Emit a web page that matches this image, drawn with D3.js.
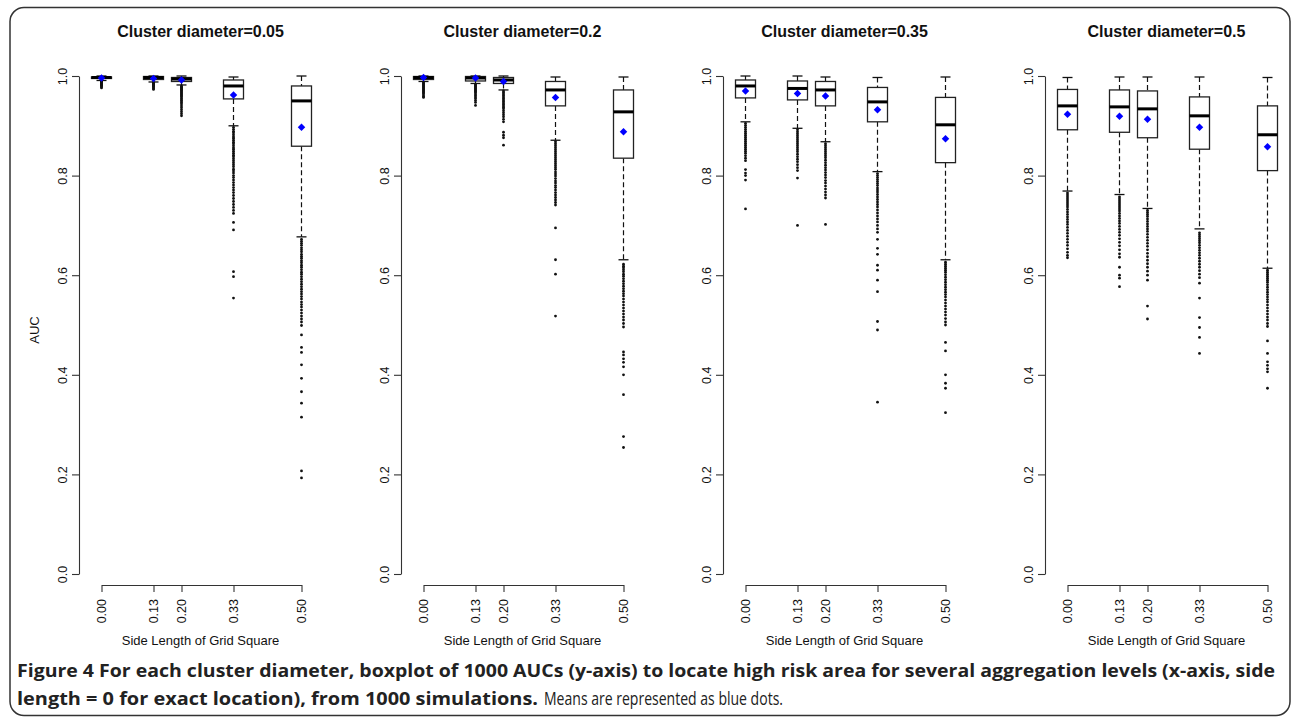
<!DOCTYPE html>
<html lang="en">
<head>
<meta charset="UTF-8">
<title>Figure 4 - AUC boxplots</title>
<script src="https://d3js.org/d3.v7.min.js"></script>
<style>
    body { margin: 0; background: #fff; }
    .title { font-family: "Liberation Sans", Arial, sans-serif; font-size: 16px; font-weight: bold; text-anchor: middle; fill: #111; }
    .axis text { font-family: "Liberation Sans", Arial, sans-serif; font-size: 12.5px; fill: #111; }
    .axis path, .axis line { stroke: #333; stroke-width: 1.1; }
    .lab { font-family: "Liberation Sans", Arial, sans-serif; font-size: 13px; fill: #111; text-anchor: middle; }
    .cap { font-family: "Liberation Sans Narrow", "Open Sans", sans-serif; font-size: 18px; fill: #222; }
</style>
</head>
<body>
<script>
// x positions of the boxes (side length of grid square)
const sideLengths = [0, 0.13, 0.2, 0.33, 0.5];
const sideLabels = ["0.00", "0.13", "0.20", "0.33", "0.50"];
const diameters = ["0.05", "0.2", "0.35", "0.5"];
const yTicks = [0, 0.2, 0.4, 0.6, 0.8, 1.0];

// one row per cluster diameter, one column per side length
const whiskerHigh = [
    [1.000, 1.000, 1.000, 0.998, 1.000],
    [1.000, 1.000, 1.000, 0.998, 0.998],
    [1.000, 1.000, 0.998, 0.997, 0.998],
    [0.997, 0.998, 0.998, 0.998, 0.997]
];
const q3 = [
    [0.998, 0.999, 0.997, 0.992, 0.980],
    [0.999, 0.999, 0.997, 0.989, 0.972],
    [0.992, 0.990, 0.989, 0.977, 0.957],
    [0.973, 0.972, 0.970, 0.958, 0.940]
];
const medians = [
    [0.997, 0.997, 0.994, 0.980, 0.950],
    [0.997, 0.996, 0.992, 0.972, 0.928],
    [0.980, 0.975, 0.972, 0.948, 0.902],
    [0.940, 0.938, 0.934, 0.920, 0.882]
];
const q1 = [
    [0.995, 0.993, 0.989, 0.954, 0.859],
    [0.993, 0.990, 0.985, 0.940, 0.835],
    [0.956, 0.952, 0.940, 0.908, 0.826],
    [0.892, 0.887, 0.876, 0.853, 0.810]
];
const whiskerLow = [
    [0.991, 0.988, 0.982, 0.900, 0.677],
    [0.989, 0.985, 0.972, 0.871, 0.631],
    [0.908, 0.895, 0.868, 0.808, 0.631],
    [0.769, 0.762, 0.734, 0.693, 0.614]
];
const means = [
    [0.996, 0.995, 0.992, 0.962, 0.897],
    [0.997, 0.996, 0.989, 0.957, 0.888],
    [0.970, 0.965, 0.960, 0.932, 0.874],
    [0.923, 0.919, 0.913, 0.897, 0.858]
];

const outliers = [
    [
        [0.990, 0.989, 0.988, 0.987, 0.986, 0.985, 0.984, 0.983, 0.982, 0.981, 0.980, 0.978, 0.976],
        [0.987, 0.986, 0.985, 0.984, 0.983, 0.982, 0.981, 0.980, 0.979, 0.977, 0.975, 0.973],
        [0.980, 0.978, 0.977, 0.975, 0.973, 0.972, 0.970, 0.968, 0.966, 0.964, 0.962, 0.960, 0.958, 0.955, 0.952, 0.950, 0.947, 0.944, 0.940, 0.936, 0.932, 0.928, 0.924, 0.920],
        [0.897, 0.893, 0.889, 0.886, 0.882, 0.878, 0.875, 0.871, 0.867, 0.864, 0.860, 0.856, 0.853, 0.849, 0.845, 0.841, 0.838, 0.834, 0.830, 0.826, 0.822, 0.818, 0.813, 0.809, 0.805, 0.800, 0.796, 0.791, 0.786, 0.781, 0.776, 0.771, 0.766, 0.760, 0.754, 0.748, 0.742, 0.736, 0.730, 0.724, 0.706, 0.691, 0.607, 0.597, 0.554],
        [0.672, 0.668, 0.664, 0.660, 0.655, 0.651, 0.647, 0.642, 0.638, 0.634, 0.629, 0.625, 0.620, 0.616, 0.611, 0.606, 0.602, 0.597, 0.592, 0.587, 0.582, 0.577, 0.572, 0.567, 0.562, 0.557, 0.552, 0.546, 0.541, 0.536, 0.530, 0.524, 0.518, 0.512, 0.506, 0.499, 0.480, 0.455, 0.445, 0.420, 0.393, 0.366, 0.343, 0.315, 0.207, 0.193]
    ],
    [
        [0.987, 0.985, 0.983, 0.981, 0.979, 0.977, 0.975, 0.973, 0.971, 0.969, 0.967, 0.965, 0.962, 0.959, 0.957],
        [0.983, 0.981, 0.979, 0.977, 0.975, 0.973, 0.971, 0.969, 0.967, 0.964, 0.961, 0.958, 0.955, 0.951, 0.947, 0.941],
        [0.970, 0.967, 0.964, 0.961, 0.958, 0.955, 0.952, 0.949, 0.946, 0.943, 0.940, 0.937, 0.934, 0.930, 0.926, 0.922, 0.918, 0.913, 0.908, 0.887, 0.881, 0.876, 0.861],
        [0.868, 0.864, 0.860, 0.856, 0.852, 0.848, 0.844, 0.840, 0.836, 0.832, 0.828, 0.824, 0.820, 0.816, 0.812, 0.807, 0.803, 0.799, 0.794, 0.789, 0.785, 0.780, 0.776, 0.771, 0.766, 0.761, 0.756, 0.751, 0.746, 0.741, 0.695, 0.631, 0.602, 0.518],
        [0.622, 0.618, 0.615, 0.611, 0.607, 0.602, 0.598, 0.593, 0.588, 0.583, 0.578, 0.573, 0.568, 0.563, 0.558, 0.552, 0.546, 0.540, 0.534, 0.528, 0.522, 0.516, 0.510, 0.503, 0.496, 0.446, 0.440, 0.432, 0.425, 0.416, 0.400, 0.360, 0.276, 0.254]
    ],
    [
        [0.905, 0.901, 0.897, 0.893, 0.889, 0.885, 0.881, 0.877, 0.873, 0.869, 0.865, 0.861, 0.857, 0.853, 0.849, 0.845, 0.840, 0.835, 0.830, 0.812, 0.805, 0.800, 0.791, 0.733],
        [0.892, 0.888, 0.884, 0.880, 0.876, 0.872, 0.868, 0.864, 0.860, 0.856, 0.852, 0.848, 0.843, 0.838, 0.833, 0.828, 0.822, 0.816, 0.810, 0.795, 0.700],
        [0.864, 0.860, 0.856, 0.852, 0.848, 0.844, 0.840, 0.836, 0.831, 0.826, 0.821, 0.816, 0.811, 0.806, 0.801, 0.796, 0.790, 0.785, 0.779, 0.773, 0.767, 0.761, 0.755, 0.702],
        [0.804, 0.800, 0.796, 0.792, 0.788, 0.784, 0.780, 0.775, 0.771, 0.767, 0.762, 0.757, 0.752, 0.747, 0.742, 0.737, 0.731, 0.725, 0.719, 0.713, 0.707, 0.700, 0.693, 0.686, 0.672, 0.654, 0.642, 0.620, 0.610, 0.590, 0.567, 0.507, 0.490, 0.345],
        [0.626, 0.622, 0.618, 0.614, 0.610, 0.606, 0.601, 0.596, 0.591, 0.586, 0.581, 0.576, 0.571, 0.566, 0.561, 0.556, 0.550, 0.544, 0.538, 0.532, 0.526, 0.520, 0.513, 0.506, 0.500, 0.465, 0.448, 0.400, 0.383, 0.373, 0.324]
    ],
    [
        [0.765, 0.761, 0.757, 0.753, 0.749, 0.745, 0.741, 0.737, 0.732, 0.727, 0.722, 0.717, 0.712, 0.707, 0.702, 0.696, 0.690, 0.684, 0.678, 0.672, 0.666, 0.660, 0.653, 0.646, 0.640, 0.635],
        [0.757, 0.753, 0.749, 0.745, 0.741, 0.737, 0.733, 0.729, 0.724, 0.719, 0.714, 0.709, 0.704, 0.698, 0.692, 0.686, 0.680, 0.673, 0.666, 0.659, 0.651, 0.643, 0.636, 0.616, 0.600, 0.594, 0.577],
        [0.730, 0.726, 0.722, 0.718, 0.713, 0.708, 0.703, 0.698, 0.693, 0.688, 0.682, 0.676, 0.670, 0.664, 0.658, 0.651, 0.644, 0.637, 0.630, 0.623, 0.616, 0.608, 0.600, 0.590, 0.538, 0.512],
        [0.685, 0.681, 0.677, 0.673, 0.669, 0.665, 0.660, 0.655, 0.650, 0.645, 0.640, 0.634, 0.628, 0.622, 0.616, 0.609, 0.602, 0.595, 0.584, 0.554, 0.515, 0.495, 0.475, 0.443],
        [0.610, 0.606, 0.602, 0.598, 0.594, 0.590, 0.586, 0.581, 0.576, 0.571, 0.566, 0.561, 0.556, 0.551, 0.546, 0.540, 0.534, 0.528, 0.522, 0.516, 0.510, 0.503, 0.497, 0.468, 0.443, 0.426, 0.419, 0.412, 0.406, 0.373]
    ]
];

const W = 1292, H = 719;
const panelStep = 322;
const boxW = 20, capW = 10;

const svg = d3.select("body").append("svg")
    .attr("width", W)
    .attr("height", H);

// rounded frame around the figure
svg.append("rect")
    .attr("x", 10).attr("y", 7.5)
    .attr("width", 1280).attr("height", 708)
    .attr("rx", 14).attr("ry", 14)
    .attr("fill", "none")
    .attr("stroke", "#333")
    .attr("stroke-width", 1.5);

const y = d3.scaleLinear().domain([0, 1]).range([574, 76]);

diameters.forEach((dia, p) => {
    const off = p * panelStep;
    const x = d3.scaleLinear().domain([0, 0.5]).range([101.5 + off, 301.5 + off]);
    const axisX = 79 + off;
    const g = svg.append("g");

    g.append("text")
        .attr("class", "title")
        .attr("x", (x(0) + x(0.5)) / 2 - 1)
        .attr("y", 37)
        .text("Cluster diameter=" + dia);

    // y axis, R style labels parallel to axis
    const ya = g.append("g")
        .attr("class", "axis")
        .attr("transform", `translate(${axisX},0)`)
        .call(d3.axisLeft(y).tickValues(yTicks).tickFormat(d3.format(".1f")).tickSize(7).tickSizeOuter(0));
    ya.selectAll("text")
        .attr("transform", "rotate(-90)")
        .attr("x", 0).attr("y", -12).attr("dy", 0)
        .attr("text-anchor", "middle");

    // x axis
    const xa = g.append("g")
        .attr("class", "axis")
        .attr("transform", "translate(0,585)")
        .call(d3.axisBottom(x).tickValues(sideLengths).tickFormat((d, i) => sideLabels[i]).tickSize(7).tickSizeOuter(0));
    xa.selectAll("text")
        .attr("transform", "rotate(-90)")
        .attr("x", -14).attr("y", 0).attr("dy", "0.35em")
        .attr("text-anchor", "end");

    g.append("text")
        .attr("class", "lab")
        .attr("x", (x(0) + x(0.5)) / 2 - 1)
        .attr("y", 645)
        .text("Side Length of Grid Square");

    if (p === 0) {
        g.append("text")
            .attr("class", "lab")
            .attr("transform", `translate(39,330) rotate(-90)`)
            .text("AUC");
    }

    sideLengths.forEach((s, i) => {
        const cx = x(s);
        const b = g.append("g");
        // whiskers (dashed)
        b.append("line")
            .attr("x1", cx).attr("x2", cx)
            .attr("y1", y(whiskerHigh[p][i])).attr("y2", y(q3[p][i]))
            .attr("stroke", "#111").attr("stroke-width", 1.2).attr("stroke-dasharray", "5,3");
        b.append("line")
            .attr("x1", cx).attr("x2", cx)
            .attr("y1", y(q1[p][i])).attr("y2", y(whiskerLow[p][i]))
            .attr("stroke", "#111").attr("stroke-width", 1.2).attr("stroke-dasharray", "5,3");
        // staples
        [whiskerHigh[p][i], whiskerLow[p][i]].forEach(v => {
            b.append("line")
                .attr("x1", cx - capW / 2).attr("x2", cx + capW / 2)
                .attr("y1", y(v)).attr("y2", y(v))
                .attr("stroke", "#111").attr("stroke-width", 1.3);
        });
        // box
        b.append("rect")
            .attr("x", cx - boxW / 2)
            .attr("y", y(q3[p][i]))
            .attr("width", boxW)
            .attr("height", Math.max(1, y(q1[p][i]) - y(q3[p][i])))
            .attr("fill", "#fff")
            .attr("stroke", "#222")
            .attr("stroke-width", 1.3);
        // median
        b.append("line")
            .attr("x1", cx - boxW / 2).attr("x2", cx + boxW / 2)
            .attr("y1", y(medians[p][i])).attr("y2", y(medians[p][i]))
            .attr("stroke", "#000").attr("stroke-width", 3);
        // outliers
        b.selectAll("circle")
            .data(outliers[p][i])
            .enter().append("circle")
            .attr("cx", cx)
            .attr("cy", d => y(d))
            .attr("r", 1.4)
            .attr("fill", "#111");
        // mean
        b.append("path")
            .attr("d", d3.symbol(d3.symbolSquare, 28)())
            .attr("transform", `translate(${cx},${y(means[p][i])}) rotate(45)`)
            .attr("fill", "#0000ff");
    });
});

// caption
const capLine1 = "Figure 4 For each cluster diameter, boxplot of 1000 AUCs (y-axis) to locate high risk area for several aggregation levels (x-axis, side";
const capLine2a = "length = 0 for exact location), from 1000 simulations.";
const capLine2b = "Means are represented as blue dots.";

svg.append("text")
    .attr("class", "cap")
    .attr("x", 17).attr("y", 677)
    .attr("font-weight", "bold")
    .attr("textLength", 1258)
    .attr("lengthAdjust", "spacingAndGlyphs")
    .text(capLine1);
svg.append("text")
    .attr("class", "cap")
    .attr("x", 17).attr("y", 705)
    .attr("font-weight", "bold")
    .attr("textLength", 521)
    .attr("lengthAdjust", "spacingAndGlyphs")
    .text(capLine2a);
svg.append("text")
    .attr("class", "cap")
    .attr("x", 544).attr("y", 705)
    .attr("fill", "#555")
    .attr("textLength", 239)
    .attr("lengthAdjust", "spacingAndGlyphs")
    .text(capLine2b);
</script>
</body>
</html>
